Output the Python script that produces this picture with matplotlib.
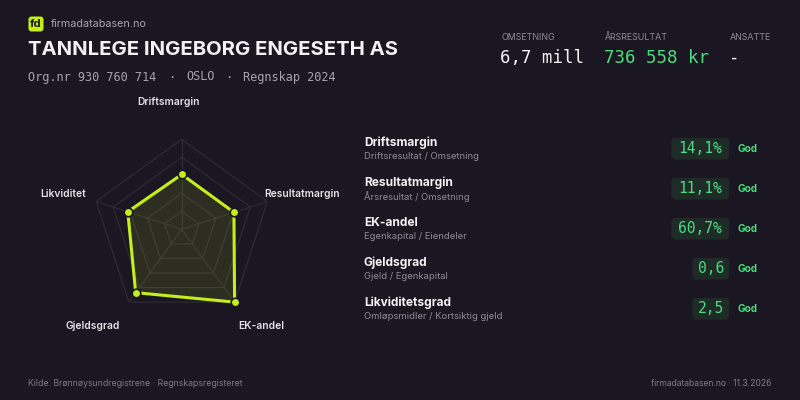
import numpy as np
import matplotlib
matplotlib.use("Agg")
import matplotlib.pyplot as plt
from matplotlib.patches import FancyBboxPatch

# ---- data ----
company = "TANNLEGE INGEBORG ENGESETH AS"
subtitle_parts = ["Org.nr 930 760 714", "·", "OSLO", "·", "Regnskap 2024"]
kpi_labels = ["OMSETNING", "ÅRSRESULTAT", "ANSATTE"]
kpi_values = ["6,7 mill", "736 558 kr", "-"]

radar_labels = ["Driftsmargin", "Resultatmargin", "EK-andel", "Gjeldsgrad", "Likviditet"]
radar_scores = [0.61, 0.61, 1.0, 0.87, 0.63]

metric_names = ["Driftsmargin", "Resultatmargin", "EK-andel", "Gjeldsgrad", "Likviditetsgrad"]
metric_formulas = ["Driftsresultat / Omsetning", "Årsresultat / Omsetning",
                   "Egenkapital / Eiendeler", "Gjeld / Egenkapital",
                   "Omløpsmidler / Kortsiktig gjeld"]
metric_values = ["14,1%", "11,1%", "60,7%", "0,6", "2,5"]
metric_status = ["God", "God", "God", "God", "God"]

source_text = "Kilde: Brønnøysundregistrene · Regnskapsregisteret"
site_text = "firmadatabasen.no · 11.3.2026"

# ---- style ----
BG = "#1b1722"
LIME = "#c6ef1a"
GREEN = "#4ade80"
WHITE = "#f2f2f4"
GRAY = "#8d8a96"
GRID = "#2f2c37"
SANS = ["Inter", "DejaVu Sans"]
MONO = ["DejaVu Sans Mono"]

fig = plt.figure(figsize=(8, 4), dpi=100, facecolor=BG)
bg = fig.add_axes([0, 0, 1, 1])
bg.set_xlim(0, 800)
bg.set_ylim(400, 0)
bg.axis("off")
bg.set_facecolor(BG)

# logo
bg.add_patch(FancyBboxPatch((28.5, 16.5), 15, 15, boxstyle="round,pad=0,rounding_size=3",
                            fc=LIME, ec="none"))
bg.text(36, 24.3, "fd", ha="center", va="center", fontsize=8, color="#15131a",
        family=SANS, fontweight="bold")
bg.text(50.5, 24, "firmadatabasen.no", ha="left", va="center", fontsize=7.8,
        color="#a6a3ae", family=SANS)

bg.text(27.5, 50, company, ha="left", va="center", fontsize=14.6, color=WHITE,
        family=SANS, fontweight="bold")
sub_x = [28, 171.7, 186.7, 228.3, 243.3]
sub_ha = ["left", "center", "left", "center", "left"]
for x, t, ha in zip(sub_x, subtitle_parts, sub_ha):
    bg.text(x, 80.5, t, ha=ha, va="baseline", fontsize=8.55, color="#a6a3ae", family=MONO)

kpi_x = [501, 605, 730]
kpi_colors = [WHITE, GREEN, WHITE]
for x, lab, val, c in zip(kpi_x, kpi_labels, kpi_values, kpi_colors):
    bg.text(x, 37, lab, ha="left", va="center", fontsize=6.4, color=GRAY, family=SANS)
    bg.text(x - 1, 58, val, ha="left", va="center", fontsize=12.5, color=c, family=MONO)

# metrics list
for i, (n, f, v, s) in enumerate(zip(metric_names, metric_formulas, metric_values, metric_status)):
    y = 143 + 40 * i
    bg.text(364, y, n, ha="left", va="center", fontsize=8.6, color=WHITE,
            family=SANS, fontweight="bold")
    bg.text(364, y + 13.5, f, ha="left", va="center", fontsize=6.8, color=GRAY, family=SANS)
    w = 10.5 * len(v) + 5
    bg.add_patch(FancyBboxPatch((729 - w, y - 5), w, 21.5,
                                boxstyle="round,pad=0,rounding_size=3",
                                fc="#1f2b27", ec="none"))
    bg.text(729 - w / 2, y + 5.8, v, ha="center", va="center", fontsize=10.5,
            color=GREEN, family=MONO)
    bg.text(738, y + 5.5, s, ha="left", va="center", fontsize=7.2, color=GREEN,
            family=SANS, fontweight="bold")

bg.text(28, 383, source_text, ha="left", va="center", fontsize=6.25, color="#7d7a86", family=SANS)
bg.text(771, 383, site_text, ha="right", va="center", fontsize=6.2, color="#7d7a86", family=SANS)

# radar labels (pixel positions)
label_pos = [(169, 102, "center"), (264, 194, "left"), (238, 326, "left"),
             (66, 326, "left"), (40, 194, "left")]
for (x, y, ha), lab in zip(label_pos, radar_labels):
    bg.text(x, y, lab, ha=ha, va="center", fontsize=7.4, color="#e2e1e6",
            family=SANS, fontweight="semibold")

# ---- radar ----
cx, cy, R = 181.7, 229.3, 90
ax = fig.add_axes([(cx - R) / 800, (400 - cy - R) / 400, 2 * R / 800, 2 * R / 400],
                  projection="polar")
ax.set_facecolor("none")
ax.patch.set_alpha(0)
ax.set_theta_offset(np.pi / 2)
ax.set_theta_direction(-1)
ax.set_ylim(0, 1)
ax.grid(False)
ax.set_xticks([])
ax.set_yticks([])
ax.spines["polar"].set_visible(False)

n = len(radar_labels)
ang = np.linspace(0, 2 * np.pi, n, endpoint=False)
ang_c = np.concatenate([ang, ang[:1]])
for r in [0.2, 0.4, 0.6, 0.8, 1.0]:
    ax.plot(ang_c, [r] * (n + 1), color=GRID, lw=0.8, zorder=1)
for a in ang:
    ax.plot([a, a], [0, 1], color=GRID, lw=0.8, zorder=1)

vals = np.array(radar_scores + radar_scores[:1])
ax.fill(ang_c, vals, color=LIME, alpha=0.11, zorder=2, lw=0)
ax.plot(ang_c, vals, color=LIME, lw=2.2, zorder=3)
ax.scatter(ang, radar_scores, s=38, color=LIME, edgecolors=BG, linewidths=1.2, zorder=4, clip_on=False)

fig.savefig("out.png", dpi=100, facecolor=BG)
